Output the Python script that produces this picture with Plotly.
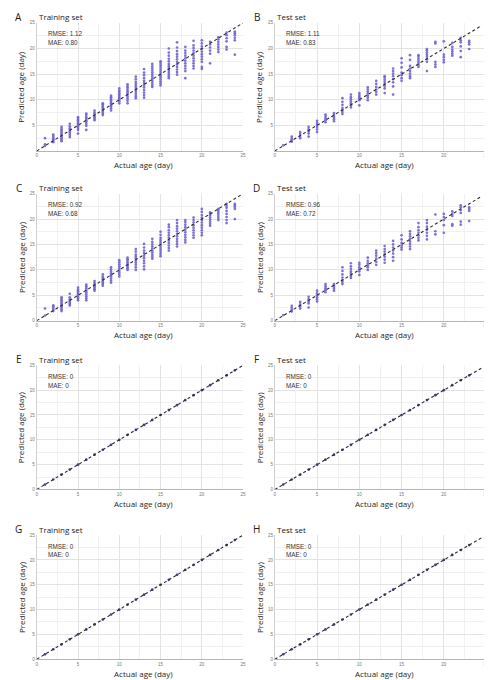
import plotly.graph_objects as go

W, H = 492, 680

# ---- data (actual age in days, predicted ages) ----
a_days = [1, 2, 3, 4, 5, 6, 7, 8, 9, 10, 11, 12, 13, 14, 15, 16, 17, 18, 19, 20, 21, 22, 23, 24]
a_pred = [
    [1.0, 1.3, 2.5],
    [1.7, 2.0, 2.3, 2.6, 2.9, 3.2],
    [1.9, 2.2, 2.5, 2.8, 3.1, 3.4, 3.7, 4.0, 4.3, 4.7],
    [2.7, 3.1, 3.5, 3.8, 4.1, 4.4, 4.8, 5.3],
    [3.4, 4.1, 4.5, 4.8, 5.1, 5.4, 5.7, 6.0, 6.3, 6.6],
    [4.1, 4.9, 5.3, 5.7, 6.0, 6.3, 6.6, 7.0, 7.3],
    [6.0, 6.3, 6.6, 6.9, 7.2, 7.5, 7.9],
    [7.0, 7.3, 7.6, 7.9, 8.2, 8.5, 8.8, 9.1, 9.3],
    [7.9, 8.3, 8.7, 9.0, 9.3, 9.6, 9.9, 10.2, 10.5, 10.8],
    [9.3, 9.7, 10.0, 10.3, 10.6, 10.9, 11.2, 11.5, 11.8, 12.2],
    [9.3, 9.8, 10.2, 10.6, 11.0, 11.3, 11.6, 11.9, 12.3, 12.6, 13.0],
    [10.3, 10.7, 11.1, 11.5, 11.9, 12.3, 12.7, 13.1, 13.5, 14.0, 14.5],
    [10.4, 10.9, 11.4, 11.9, 12.4, 12.9, 13.3, 13.7, 14.2, 14.8, 15.3, 16.0],
    [12.5, 12.9, 13.3, 13.7, 14.1, 14.5, 14.9, 15.3, 15.7, 16.1, 16.5, 17.0],
    [12.8, 13.2, 13.6, 14.0, 14.4, 14.8, 15.2, 15.6, 16.0, 16.4, 16.8, 17.2, 17.5],
    [14.2, 14.6, 15.0, 15.4, 15.8, 16.2, 16.6, 17.0, 17.5, 18.0, 18.6, 19.2, 20.0],
    [14.9, 15.4, 15.9, 16.4, 16.9, 17.4, 17.9, 18.4, 18.9, 19.5, 20.2, 21.2],
    [14.2, 15.6, 16.1, 16.6, 17.1, 17.6, 18.1, 18.6, 19.1, 19.6, 20.3],
    [16.1, 16.6, 17.1, 17.6, 18.1, 18.6, 19.1, 19.6, 20.1, 20.6, 21.5],
    [16.0, 16.4, 17.4, 17.9, 18.4, 18.9, 19.4, 19.9, 20.4, 21.0, 21.6],
    [17.1, 19.0, 19.6, 20.2, 20.8, 21.3],
    [19.3, 19.8, 20.3, 20.8, 21.3, 21.8, 22.2],
    [19.8, 20.3, 21.4, 22.0, 22.6, 23.1],
    [18.8, 21.6, 22.1, 22.6, 23.0, 23.3],
]

b_days = [1, 2, 3, 4, 5, 6, 7, 8, 9, 10, 11, 12, 13, 14, 15, 16, 17, 18, 19, 20, 21, 22, 23]
b_pred = [
    [1.1],
    [1.8, 2.1, 2.4, 2.8],
    [2.5, 2.9, 3.3, 3.7],
    [2.8, 3.4, 3.8, 4.2, 4.7],
    [3.7, 4.2, 4.7, 5.1, 5.5, 5.9],
    [5.6, 6.0, 6.4, 6.8, 7.1],
    [5.8, 6.2, 6.6, 7.0, 7.4],
    [7.2, 7.6, 8.0, 8.4, 9.0, 9.6, 10.3],
    [8.5, 8.9, 9.3, 9.7, 10.1, 10.5, 11.0],
    [8.9, 9.9, 10.3, 10.6, 10.9, 11.3],
    [9.9, 10.4, 10.8, 11.2, 11.6, 12.0, 12.4],
    [11.0, 11.5, 12.0, 12.5, 13.1, 13.7],
    [11.3, 12.2, 12.7, 13.1, 13.5, 13.9, 14.3, 14.6],
    [11.0, 12.6, 13.4, 14.0, 14.6, 15.1, 15.6, 16.1],
    [13.7, 14.2, 14.8, 15.3, 16.3, 17.2, 18.1],
    [14.2, 14.6, 15.1, 15.6, 16.1, 16.6, 17.8, 18.7],
    [16.4, 16.8, 17.2, 17.6, 18.0, 18.4, 18.7],
    [15.6, 17.4, 17.9, 18.4, 18.8, 19.2, 19.6, 19.9],
    [16.4, 16.9, 17.4, 21.0, 21.3],
    [17.3, 17.8, 18.3, 18.8, 21.4],
    [18.6, 19.0, 19.4, 19.8, 20.3, 21.1],
    [18.3, 19.5, 20.4, 21.2, 21.6, 22.1],
    [19.9, 20.8, 21.2, 21.5],
]

c_days = [1, 2, 3, 4, 5, 6, 7, 8, 9, 10, 11, 12, 13, 14, 15, 16, 17, 18, 19, 20, 21, 22, 23, 24]
c_pred = [
    [1.0, 2.4],
    [1.9, 2.2, 2.5, 2.8, 3.0],
    [1.9, 2.2, 2.5, 2.8, 3.1, 3.4, 3.7, 4.0, 4.3, 4.6],
    [3.0, 3.3, 3.6, 3.9, 4.2, 4.6, 5.3],
    [4.0, 4.3, 4.6, 4.9, 5.2, 5.5, 5.8, 6.1, 6.5],
    [4.0, 4.4, 4.8, 5.2, 5.6, 6.0, 6.4, 6.8, 7.1],
    [5.9, 6.2, 6.5, 6.8, 7.1, 7.4, 7.8],
    [6.9, 7.2, 7.5, 7.8, 8.1, 8.4, 8.7, 9.1],
    [7.5, 7.9, 8.3, 8.7, 9.0, 9.3, 9.7, 10.1, 10.5],
    [8.7, 9.1, 9.5, 9.9, 10.3, 10.7, 11.1, 11.5, 11.9],
    [10.0, 10.3, 10.6, 10.9, 11.2, 11.5, 11.8, 12.1, 12.4],
    [10.0, 10.5, 11.0, 11.4, 11.8, 12.2, 12.6, 13.0, 13.6, 14.1],
    [10.1, 10.7, 11.3, 11.8, 12.3, 12.8, 13.3, 13.8, 14.4, 15.1],
    [12.2, 12.6, 13.0, 13.4, 13.8, 14.2, 14.6, 15.0, 15.5, 16.1],
    [12.7, 13.1, 13.5, 13.9, 14.3, 14.7, 15.1, 15.5, 15.9, 16.3, 16.9, 17.5],
    [13.8, 14.3, 14.8, 15.3, 15.8, 16.3, 16.8, 17.3, 17.8, 18.4, 18.9],
    [14.6, 15.1, 15.6, 16.1, 16.6, 17.1, 17.6, 18.1, 18.6, 19.2, 19.8],
    [15.4, 15.9, 16.4, 16.9, 17.4, 17.9, 18.4, 18.9, 19.4, 19.8],
    [16.3, 16.8, 17.3, 17.8, 18.3, 18.8, 19.3, 19.8, 20.3],
    [16.8, 17.3, 17.8, 18.3, 18.8, 19.3, 19.8, 20.3, 20.8, 21.4, 22.0],
    [18.7, 19.1, 19.5, 19.9, 20.3, 20.7, 21.0, 21.3],
    [19.8, 20.2, 20.6, 21.0, 21.4, 21.8, 22.0],
    [19.2, 19.8, 20.4, 21.0, 21.6, 22.2, 22.6, 23.0],
    [20.0, 22.0, 22.4, 22.7, 23.0],
]

d_days = [1, 2, 3, 4, 5, 6, 7, 8, 9, 10, 11, 12, 13, 14, 15, 16, 17, 18, 19, 20, 21, 22, 23]
d_pred = [
    [1.1],
    [1.8, 2.1, 2.5, 2.9],
    [2.4, 2.8, 3.2, 3.7],
    [2.6, 3.4, 3.8, 4.2, 4.7],
    [3.8, 4.2, 4.6, 5.0, 5.4, 5.9],
    [5.6, 6.0, 6.4, 6.8, 7.2],
    [5.9, 6.3, 6.7, 7.0, 7.2],
    [7.2, 7.6, 8.0, 8.5, 9.1, 9.8, 10.5],
    [8.4, 8.8, 9.3, 9.7, 10.2, 10.7, 11.3],
    [9.0, 9.7, 10.1, 10.5, 11.0, 11.4],
    [10.0, 10.5, 10.9, 11.3, 11.8, 12.4],
    [11.0, 11.6, 12.2, 12.8, 13.3, 13.8],
    [11.4, 12.0, 12.6, 13.1, 13.6, 14.1, 14.7],
    [11.8, 12.5, 13.2, 13.8, 14.4, 15.0, 15.7],
    [14.0, 14.4, 14.8, 15.3, 16.0, 16.8],
    [14.1, 14.6, 15.1, 15.6, 16.1, 16.6, 17.1, 17.6],
    [15.8, 16.3, 16.8, 17.3, 17.8, 18.4, 19.2],
    [16.0, 16.7, 17.3, 17.9, 18.5, 19.2, 19.8],
    [17.0, 17.6, 20.9],
    [17.3, 18.8, 19.8, 20.4, 21.0],
    [18.7, 19.0, 20.6, 21.0, 21.5],
    [18.9, 19.5, 21.2, 21.8, 22.3, 22.7],
    [19.6, 21.6, 22.0, 22.3],
]

# E-H: perfect fit, predicted == actual
e_days = [1, 2, 3, 4, 5, 6, 7, 8, 9, 10, 11, 12, 13, 14, 15, 16, 17, 18, 19, 20, 21, 22, 23, 24]
e_pred = [[1], [2], [3], [4], [5], [6], [7], [8], [9], [10], [11], [12], [13], [14], [15], [16],
          [17], [18], [19], [20], [21], [22], [23], [24]]
f_days = [1, 2, 3, 4, 5, 6, 7, 8, 9, 10, 11, 12, 13, 14, 15, 16, 17, 18, 19, 20, 21, 22, 23]
f_pred = [[1], [2], [3], [4], [5], [6], [7], [8], [9], [10], [11], [12], [13], [14], [15], [16],
          [17], [18], [19], [20], [21], [22], [23]]

diag_left = [0, 25]
diag_right = [0, 24.5]

panels = [
    ("A", "Training set", "RMSE: 1.12", "MAE: 0.80", a_days, a_pred, diag_left, "#6f63d0"),
    ("B", "Test set", "RMSE: 1.11", "MAE: 0.83", b_days, b_pred, diag_right, "#6f63d0"),
    ("C", "Training set", "RMSE: 0.92", "MAE: 0.68", c_days, c_pred, diag_left, "#6f63d0"),
    ("D", "Test set", "RMSE: 0.96", "MAE: 0.72", d_days, d_pred, diag_right, "#6f63d0"),
    ("E", "Training set", "RMSE: 0", "MAE: 0", e_days, e_pred, diag_left, "#2c2a6e"),
    ("F", "Test set", "RMSE: 0", "MAE: 0", f_days, f_pred, diag_right, "#2c2a6e"),
    ("G", "Training set", "RMSE: 0", "MAE: 0", e_days, e_pred, diag_left, "#2c2a6e"),
    ("H", "Test set", "RMSE: 0", "MAE: 0", f_days, f_pred, diag_right, "#2c2a6e"),
]

# pixel boxes of the plot areas
col_px = [(28, 236), (268, 481)]
row_px = [(13, 142), (185, 313), (358, 483), (529, 654)]

fig = go.Figure()
annotations = []
title_font = "Open Sans, Noto Sans, sans-serif"
text_font = "Liberation Sans, Arial, sans-serif"

for i, (letter, title, rmse, mae, days, preds, diag, mcolor) in enumerate(panels):
    n = i + 1
    r, c = i // 2, i % 2
    x0, x1 = col_px[c]
    y0, y1 = row_px[r]
    xs, ys = [], []
    for d, vals in zip(days, preds):
        for v in vals:
            xs.append(d)
            ys.append(v)
    xa = "x" if n == 1 else "x%d" % n
    ya = "y" if n == 1 else "y%d" % n
    fig.add_trace(go.Scatter(x=xs, y=ys, mode="markers", xaxis=xa, yaxis=ya,
                             marker=dict(size=2.7, color=mcolor, opacity=0.9),
                             showlegend=False, hoverinfo="skip"))
    fig.add_trace(go.Scatter(x=diag, y=diag, mode="lines", xaxis=xa, yaxis=ya,
                             line=dict(color="#2b2b2b", width=1.1, dash="3px,2.5px"),
                             showlegend=False, hoverinfo="skip"))

    ticks_y = [5, 10, 15, 20, 25] if r == 0 else [0, 5, 10, 15, 20, 25]
    ax = dict(domain=[x0 / W, x1 / W], range=[0, 25], anchor=ya,
              tickvals=[0, 5, 10, 15, 20, 25], ticks="",
              tickfont=dict(size=4.5, color="#777777", family=text_font),
              showgrid=True, gridcolor="#e3e3e3", gridwidth=0.8,
              minor=dict(dtick=2.5, showgrid=True, gridcolor="#f1f1f1", gridwidth=0.6),
              showline=True, linecolor="#b5b5b5", linewidth=1, zeroline=False,
              fixedrange=True)
    ay = dict(domain=[1 - y1 / H, 1 - y0 / H], range=[0, 25], anchor=xa,
              tickvals=ticks_y, ticks="",
              tickfont=dict(size=4.5, color="#777777", family=text_font),
              showgrid=True, gridcolor="#e3e3e3", gridwidth=0.8,
              minor=dict(dtick=2.5, showgrid=True, gridcolor="#f1f1f1", gridwidth=0.6),
              showline=True, linecolor="#d0d0d0", linewidth=1, zeroline=False,
              fixedrange=True)
    fig.update_layout(**{("xaxis" if n == 1 else "xaxis%d" % n): ax,
                         ("yaxis" if n == 1 else "yaxis%d" % n): ay})

    # panel letter and title
    lx = 10 if c == 0 else 250
    annotations.append(dict(x=lx / W, y=1 - (y0 - 6) / H, xref="paper", yref="paper",
                            text=letter, showarrow=False, xanchor="center", yanchor="middle",
                            font=dict(size=10, color="#1a1a1a", family=title_font)))
    annotations.append(dict(x=x0 / W, y=1 - (y0 - 6) / H, xref="paper", yref="paper",
                            text=title, showarrow=False, xanchor="left", yanchor="middle",
                            font=dict(size=8, color="#1a1a1a", family=title_font)))
    # metrics
    annotations.append(dict(x=(x0 + 9) / W, y=1 - (y0 + 11) / H, xref="paper", yref="paper",
                            text=rmse, showarrow=False, xanchor="left", yanchor="middle",
                            font=dict(size=6.3, color="#333333", family=text_font)))
    annotations.append(dict(x=(x0 + 9) / W, y=1 - (y0 + 20) / H, xref="paper", yref="paper",
                            text=mae, showarrow=False, xanchor="left", yanchor="middle",
                            font=dict(size=6.3, color="#333333", family=text_font)))
    # axis titles
    annotations.append(dict(x=(x0 + x1) / 2 / W + 4 / W, y=1 - (y1 + 14) / H, xref="paper", yref="paper",
                            text="Actual age (day)", showarrow=False, xanchor="center", yanchor="middle",
                            font=dict(size=8, color="#262626", family=title_font)))
    annotations.append(dict(x=(x0 - 16) / W, y=1 - (y0 + y1) / 2 / H, xref="paper", yref="paper",
                            text="Predicted age (day)", showarrow=False, textangle=-90,
                            xanchor="center", yanchor="middle",
                            font=dict(size=8, color="#262626", family=title_font)))

fig.update_layout(width=W, height=H, margin=dict(l=0, r=0, t=0, b=0),
                  paper_bgcolor="white", plot_bgcolor="white",
                  annotations=annotations, showlegend=False)

fig.write_html("out.html", config={"displayModeBar": False})
